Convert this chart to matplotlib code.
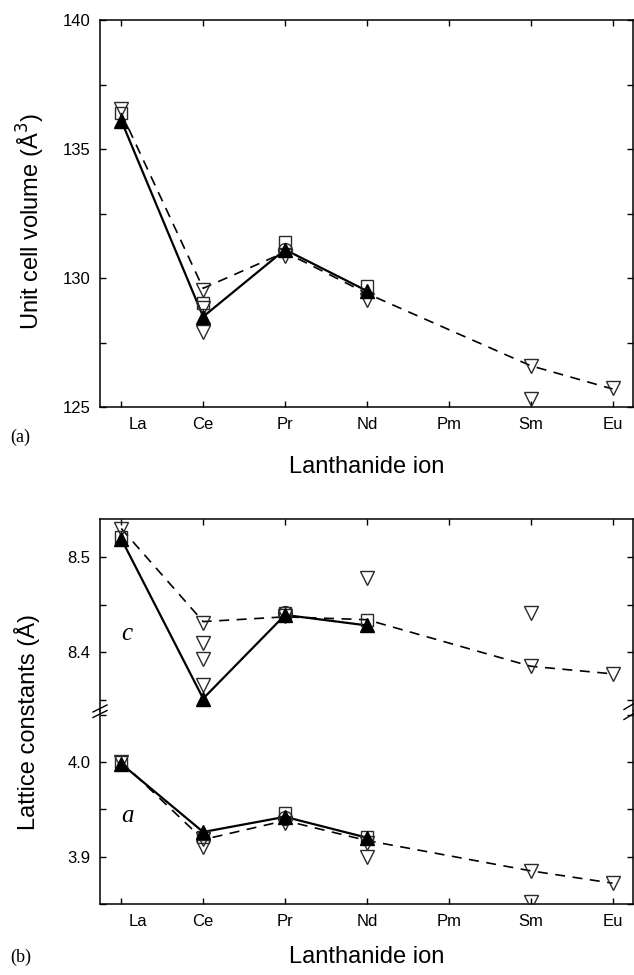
import matplotlib
matplotlib.use("Agg")
import matplotlib.pyplot as plt
from matplotlib.ticker import MultipleLocator, FormatStrFormatter
from matplotlib.transforms import ScaledTranslation
from matplotlib.lines import Line2D

plt.rcParams['font.family'] = ['Liberation Sans', 'DejaVu Sans']

# ---------------- data ----------------
ions = ['La', 'Ce', 'Pr', 'Nd', 'Pm', 'Sm', 'Eu']

# (a) unit cell volume (A^3)
vol_solid_ions = ['La', 'Ce', 'Pr', 'Nd']
vol_solid = [136.1, 128.5, 131.1, 129.5]
vol_dash_ions = ['La', 'Ce', 'Pr', 'Nd', 'Sm', 'Eu']
vol_dash = [136.4, 129.6, 131.0, 129.4, 126.6, 125.7]
vol_sq_ions = ['La', 'Ce', 'Pr', 'Nd']
vol_sq = [136.4, 129.05, 131.4, 129.7]
vol_circ_ions = ['Pr']
vol_circ = [131.1]
vol_tri_ions = ['La', 'Ce', 'Ce', 'Ce', 'Pr', 'Nd', 'Sm', 'Sm', 'Eu']
vol_tri = [136.55, 129.55, 128.85, 127.9, 130.85, 129.15, 126.6, 125.3, 125.75]

# (b) lattice constant c (A)
c_solid_ions = ['La', 'Ce', 'Pr', 'Nd']
c_solid = [8.519, 8.351, 8.439, 8.428]
c_dash_ions = ['La', 'Ce', 'Pr', 'Nd', 'Sm', 'Eu']
c_dash = [8.530, 8.432, 8.437, 8.434, 8.385, 8.377]
c_sq_ions = ['La', 'Pr', 'Nd']
c_sq = [8.521, 8.441, 8.434]
c_circ_ions = ['Pr']
c_circ = [8.441]
c_tri_ions = ['La', 'Ce', 'Ce', 'Ce', 'Ce', 'Pr', 'Nd', 'Sm', 'Sm', 'Eu']
c_tri = [8.530, 8.431, 8.410, 8.393, 8.365, 8.438, 8.478, 8.441, 8.385, 8.377]

# (b) lattice constant a (A)
a_solid_ions = ['La', 'Ce', 'Pr', 'Nd']
a_solid = [3.998, 3.926, 3.942, 3.920]
a_dash_ions = ['La', 'Ce', 'Pr', 'Nd', 'Sm', 'Eu']
a_dash = [4.000, 3.918, 3.938, 3.917, 3.885, 3.872]
a_sq_ions = ['La', 'Ce', 'Pr', 'Nd']
a_sq = [4.000, 3.921, 3.946, 3.921]
a_circ_ions = ['Pr']
a_circ = [3.941]
a_tri_ions = ['La', 'Ce', 'Ce', 'Pr', 'Nd', 'Nd', 'Sm', 'Sm', 'Eu']
a_tri = [4.000, 3.919, 3.910, 3.935, 3.914, 3.900, 3.885, 3.852, 3.872]


def idx(names):
    return [ions.index(n) for n in names]


# ---------------- figure ----------------
W, H = 634, 975
fig = plt.figure(figsize=(W / 100, H / 100), dpi=100)


def box(x0, y0, x1, y1):
    return [x0 / W, 1 - y1 / H, (x1 - x0) / W, (y1 - y0) / H]


ax1 = fig.add_axes(box(100, 20, 633, 407))
axc = fig.add_axes(box(100, 519, 633, 711))
axa = fig.add_axes(box(100, 711, 633, 904))

EC = '#2a2a2a'


def draw(ax, sx, sy, dx, dy, qx, qy, ox, oy, tx, ty):
    ax.plot(idx(dx), dy, ls=(0, (6, 4.5)), color='black', lw=1.2, zorder=2)
    ax.plot(idx(sx), sy, ls='-', color='black', lw=1.6, zorder=3)
    ax.plot(idx(qx), qy, 's', ms=9, mfc='none', mec=EC, mew=1.0, ls='none', zorder=4)
    ax.plot(idx(ox), oy, 'o', ms=10, mfc='none', mec=EC, mew=1.0, ls='none', zorder=4)
    ax.plot(idx(tx), ty, 'v', ms=10.5, mfc='none', mec=EC, mew=1.0, ls='none', zorder=4)
    ax.plot(idx(sx), sy, '^', ms=10, color='black', ls='none', zorder=5)


draw(ax1, vol_solid_ions, vol_solid, vol_dash_ions, vol_dash, vol_sq_ions, vol_sq,
     vol_circ_ions, vol_circ, vol_tri_ions, vol_tri)
draw(axc, c_solid_ions, c_solid, c_dash_ions, c_dash, c_sq_ions, c_sq,
     c_circ_ions, c_circ, c_tri_ions, c_tri)
draw(axa, a_solid_ions, a_solid, a_dash_ions, a_dash, a_sq_ions, a_sq,
     a_circ_ions, a_circ, a_tri_ions, a_tri)

for ax in (ax1, axc, axa):
    ax.set_xlim(-0.26, 6.25)
    ax.set_xticks(range(len(ions)))
    ax.tick_params(axis='both', which='both', direction='in', length=4.5, width=1.0,
                   top=True, right=True, labelsize=12)
    ax.tick_params(axis='x', pad=7.5)
    ax.tick_params(axis='y', pad=7)
    for s in ax.spines.values():
        s.set_linewidth(1.1)

# top panel
ax1.set_ylim(125, 140)
ax1.yaxis.set_major_locator(MultipleLocator(5))
ax1.yaxis.set_minor_locator(MultipleLocator(2.5))
ax1.set_xticklabels(ions)

# c axes
axc.set_ylim(8.3379, 8.54)
axc.yaxis.set_major_locator(MultipleLocator(0.1))
axc.yaxis.set_minor_locator(MultipleLocator(0.05))
axc.yaxis.set_major_formatter(FormatStrFormatter('%.1f'))
axc.spines['bottom'].set_visible(False)
axc.tick_params(axis='x', bottom=False, labelbottom=False)

# a axes
axa.set_ylim(3.85, 4.0537)
axa.yaxis.set_major_locator(MultipleLocator(0.1))
axa.yaxis.set_minor_locator(MultipleLocator(0.05))
axa.yaxis.set_major_formatter(FormatStrFormatter('%.1f'))
axa.spines['top'].set_visible(False)
axa.tick_params(axis='x', top=False)
axa.set_xticklabels(ions)

# the 'La' label sits slightly right of its tick in the original
for ax in (ax1, axa):
    for lab in ax.get_xticklabels():
        if lab.get_text() == 'La':
            lab.set_transform(lab.get_transform() + ScaledTranslation(0.17, 0, fig.dpi_scale_trans))

# italic c / a labels
axc.text(0.07, 8.419, 'c', family=['Liberation Serif'], style='italic', fontsize=18,
         ha='center', va='center')
axa.text(0.07, 3.943, 'a', family=['Liberation Serif'], style='italic', fontsize=18,
         ha='center', va='center')

# axis titles
fig.text(366.5 / W, 1 - 467 / H, 'Lanthanide ion', fontsize=17, ha='center', va='center')
fig.text(366.5 / W, 1 - 957 / H, 'Lanthanide ion', fontsize=17, ha='center', va='center')
fig.text(31 / W, 1 - 222 / H, 'Unit cell volume (Å$^3$)', fontsize=17, rotation=90,
         ha='center', va='center')
fig.text(27 / W, 1 - 722 / H, 'Lattice constants (Å)', fontsize=17, rotation=90,
         ha='center', va='center')

# panel tags
fig.text(10 / W, 1 - 437 / H, '(a)', family=['Liberation Serif'], fontsize=13, ha='left', va='center')
fig.text(10 / W, 1 - 957 / H, '(b)', family=['Liberation Serif'], fontsize=13, ha='left', va='center')


# axis-break marks
def pline(x0, y0, x1, y1):
    fig.add_artist(Line2D([x0 / W, x1 / W], [1 - y0 / H, 1 - y1 / H],
                          transform=fig.transFigure, color='black', lw=1.0))


for yb in (708.5, 714.0):
    pline(93, yb + 3.5, 107, yb - 3.5)
for yb in (706.5, 716.5):
    pline(624, yb + 3.0, 634, yb - 3.0)

fig.savefig('out.png', dpi=100)
